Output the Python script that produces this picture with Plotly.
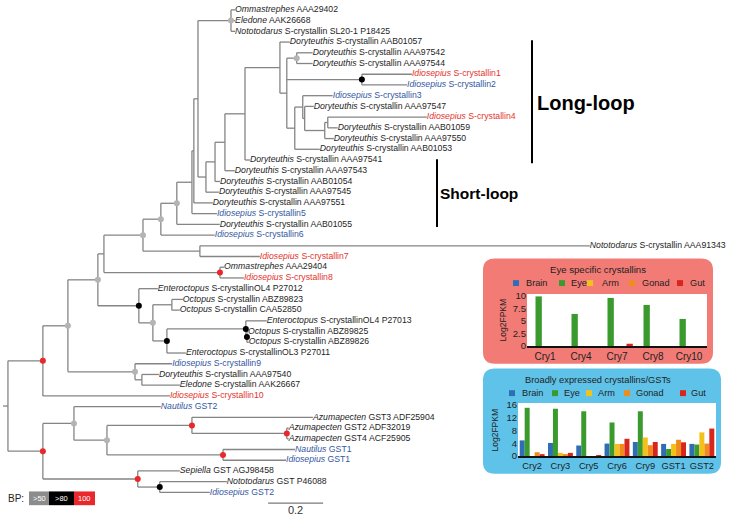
import plotly.graph_objects as go

# ---------------- DATA ----------------
# Phylogeny (Newick): leaf names are indices into the label lists below,
# internal labels are bootstrap support values, numbers after ':' are branch lengths.
clade_O = "(0:0.015,1:0.015,2:0.015)60:0.120"
clade_LL3 = "((8:0.109,(9:0.033,((10:0.360,11:0.036):0.011,12:0.033):0.073):0.007):0.029,13:0.091):0.029"
clade_LL = "(3:0.036,((4:0.058,5:0.058)60:0.036,(6:0.182,7:0.164)90:0.273," + clade_LL3 + "):0.025):0.127"
clade_SL0 = "(" + clade_LL + ",14:0.018):0.073"
clade_S1 = "(" + clade_SL0 + ",15:0.036):0.036"
clade_S2 = "(" + clade_S1 + ",16:0.018):0.033"
clade_S3 = "(" + clade_S2 + ",17:0.047):0.029"
clade_T = "(" + clade_O + "," + clade_S3 + "):0.015"
clade_L = "(" + clade_T + ",18:0.069):0.007"
clade_K = "(" + clade_L + ",19:0.091):0.055"
clade_J = "(" + clade_K + ",20:0.156)60:0.058"
clade_H = "(" + clade_J + ",21:0.196)60:0.065"
clade_I = "(22:1.418,23:0.218):0.207"
clade_F = "(" + clade_H + "," + clade_I + ")60:0.142"
clade_G = "(24:0.015,25:0.087)100:0.422"
clade_C1 = "(" + clade_F + "," + clade_G + "):0.022"
clade_E = "(26:0.069,((27:0.040,28:0.029):0.069,((29:0.076,(30:0.004,31:0.007)90:0.004)90:0.287,32:0.069)90:0.051)60:0.051)90:0.149"
clade_C = "(" + clade_C1 + "," + clade_E + ")60:0.109"
clade_D = "(33:0.135,(34:0.062,35:0.138):0.025)60:0.244"
clade_B = "(" + clade_C + "," + clade_D + ")60:0.091"
clade_A = "(" + clade_B + ",36:0.462)100:0.127"
clade_P = "((37:0.316,((38:0.440,(39:0.007,40:0.007)100:0.345)100:0.309,(41:0.262,42:0.229)100:0.422)60:0.120)60:0.113,(43:0.153,(44:0.244,45:0.182)90:0.080)100:0.345)100:0.127"
newick_tree = "(" + clade_A + "," + clade_P + "):0.018;"

leaf_genus = ["Ommastrephes", "Eledone", "Nototodarus", "Doryteuthis", "Doryteuthis", "Doryteuthis",
              "Idiosepius", "Idiosepius", "Idiosepius", "Doryteuthis", "Idiosepius", "Doryteuthis",
              "Doryteuthis", "Doryteuthis", "Doryteuthis", "Doryteuthis", "Doryteuthis", "Doryteuthis",
              "Doryteuthis", "Idiosepius", "Doryteuthis", "Idiosepius", "Nototodarus", "Idiosepius",
              "Ommastrephes", "Idiosepius", "Enteroctopus", "Octopus", "Octopus", "Enteroctopus",
              "Octopus", "Octopus", "Enteroctopus", "Idiosepius", "Doryteuthis", "Eledone",
              "Idiosepius", "Nautilus", "Azumapecten", "Azumapecten", "Azumapecten", "Nautilus",
              "Idiosepius", "Sepiella", "Nototodarus", "Idiosepius"]
leaf_rest = ["AAA29402", "AAK26668", "S-crystallin SL20-1 P18425", "S-crystallin AAB01057",
             "S-crystallin AAA97542", "S-crystallin AAA97544", "S-crystallin1", "S-crystallin2",
             "S-crystallin3", "S-crystallin AAA97547", "S-crystallin4", "S-crystallin AAB01059",
             "S-crystallin AAA97550", "S-crystallin AAB01053", "S-crystallin AAA97541",
             "S-crystallin AAA97543", "S-crystallin AAB01054", "S-crystallin AAA97545",
             "S-crystallin AAA97551", "S-crystallin5", "S-crystallin AAB01055", "S-crystallin6",
             "S-crystallin AAA91343", "S-crystallin7", "AAA29404", "S-crystallin8",
             "S-crystallinOL4 P27012", "S-crystallin ABZ89823", "S-crystallin CAA52850",
             "S-crystallinOL4 P27013", "S-crystallin ABZ89825", "S-crystallin ABZ89826",
             "S-crystallinOL3 P27011", "S-crystallin9", "S-crystallin AAA97540",
             "S-crystallin AAK26667", "S-crystallin10", "GST2", "GST3 ADF25904", "GST2 ADF32019",
             "GST4 ACF25905", "GST1", "GST1", "GST AGJ98458", "GST P46088", "GST2"]
# k = black, r = red (eye specific), b = blue (broadly expressed)
leaf_group = ["k", "k", "k", "k", "k", "k", "r", "b", "b", "k", "r", "k", "k", "k", "k", "k", "k",
              "k", "k", "b", "k", "b", "k", "r", "k", "r", "k", "k", "k", "k", "k", "k", "k", "b",
              "k", "k", "r", "b", "k", "k", "k", "b", "b", "k", "k", "b"]

scale_bar_start = 0.964
scale_bar_length = 0.2

tissues = ["Brain", "Eye", "Arm", "Gonad", "Gut"]
tissue_colors = ["#2f6db5", "#3a9a2e", "#f2c21b", "#f08c1e", "#d8261c"]

eye_cats = ["Cry1", "Cry4", "Cry7", "Cry8", "Cry10"]
eye_brain = [0, 0, 0, 0, 0]
eye_eye = [9.9, 6.4, 9.6, 8.2, 5.4]
eye_arm = [0, 0, 0, 0, 0]
eye_gonad = [0, 0, 0, 0, 0]
eye_gut = [0, 0, 0.45, 0, 0]

broad_cats = ["Cry2", "Cry3", "Cry5", "Cry6", "Cry9", "GST1", "GST2"]
broad_brain = [4.9, 4.1, 3.3, 3.9, 4.4, 3.8, 3.8]
broad_eye = [15.1, 14.8, 14.0, 10.5, 14.0, 2.2, 3.6]
broad_arm = [0.0, 1.0, 0.0, 3.8, 5.8, 3.8, 7.4]
broad_gonad = [1.2, 0.6, 0.0, 3.8, 3.4, 5.1, 3.9]
broad_gut = [0.6, 1.0, 0.1, 5.4, 4.4, 4.3, 8.6]

# ---------------- TREE PARSING / LAYOUT ----------------
def parse_newick(s):
    s = s.strip().rstrip(';')
    pos = [0]

    def node():
        n = {'children': [], 'name': None, 'bl': 0.0, 'support': None}
        if s[pos[0]] == '(':
            pos[0] += 1
            while True:
                n['children'].append(node())
                ch = s[pos[0]]
                pos[0] += 1
                if ch == ')':
                    break
        st = pos[0]
        while pos[0] < len(s) and s[pos[0]] not in ':,)':
            pos[0] += 1
        lab = s[st:pos[0]]
        if pos[0] < len(s) and s[pos[0]] == ':':
            pos[0] += 1
            st = pos[0]
            while pos[0] < len(s) and s[pos[0]] not in ',)':
                pos[0] += 1
            n['bl'] = float(s[st:pos[0]])
        if n['children']:
            n['support'] = int(lab) if lab else None
        else:
            n['name'] = int(lab)
        return n
    return node()

root = parse_newick(newick_tree)
counter = [0]


def layout(n, x0):
    n['x0'] = x0
    n['x'] = x0 + n['bl']
    if not n['children']:
        n['y'] = counter[0]
        counter[0] += 1
    else:
        for c in n['children']:
            layout(c, n['x'])
        n['y'] = (n['children'][0]['y'] + n['children'][-1]['y']) / 2.0


layout(root, 0.0)

lx, ly = [], []
leaves, internals = [], []


def collect(n):
    lx.extend([n['x0'], n['x'], None])
    ly.extend([n['y'], n['y'], None])
    if n['children']:
        internals.append(n)
        lx.extend([n['x'], n['x'], None])
        ly.extend([n['children'][0]['y'], n['children'][-1]['y'], None])
        for c in n['children']:
            collect(c)
    else:
        leaves.append(n)


collect(root)

color_map = {"k": "#1e1e1e", "r": "#e3342c", "b": "#34589f"}

fig = go.Figure()
fig.add_trace(go.Scatter(x=lx, y=ly, mode="lines", line=dict(color="#858585", width=1.3),
                         hoverinfo="skip", showlegend=False))

# node support markers
sup_style = [(50, 80, "#b4b4b4"), (80, 100, "#000000"), (100, 101, "#e8282b")]
for lo, hi, col in sup_style:
    sel = [n for n in internals if n['support'] is not None and lo <= n['support'] < hi]
    fig.add_trace(go.Scatter(x=[n['x'] for n in sel], y=[n['y'] for n in sel], mode="markers",
                             marker=dict(color=col, size=6, line=dict(width=0)),
                             hoverinfo="skip", showlegend=False))

# leaf labels
fig.add_trace(go.Scatter(
    x=[n['x'] for n in leaves], y=[n['y'] for n in leaves], mode="text",
    text=["<i>%s</i> %s" % (leaf_genus[n['name']], leaf_rest[n['name']]) for n in leaves],
    textposition="middle right",
    textfont=dict(family="Liberation Sans, Arial, sans-serif", size=8.7,
                  color=[color_map[leaf_group[n['name']]] for n in leaves]),
    hoverinfo="skip", showlegend=False))

# scale bar
fig.add_trace(go.Scatter(x=[scale_bar_start, scale_bar_start + scale_bar_length], y=[46.0, 46.0],
                         mode="lines", line=dict(color="#7a7a7a", width=1.2),
                         hoverinfo="skip", showlegend=False))
fig.add_trace(go.Scatter(x=[scale_bar_start + scale_bar_length / 2], y=[46.75], mode="text",
                         text=[str(scale_bar_length)],
                         textfont=dict(family="Liberation Sans, Arial", size=11, color="#333"),
                         hoverinfo="skip", showlegend=False))

# ---------------- INSET BAR CHARTS ----------------
eye_series = [eye_brain, eye_eye, eye_arm, eye_gonad, eye_gut]
broad_series = [broad_brain, broad_eye, broad_arm, broad_gonad, broad_gut]
for name, col, vals in zip(tissues, tissue_colors, eye_series):
    fig.add_trace(go.Bar(x=eye_cats, y=vals, name=name, marker=dict(color=col, line=dict(width=0)),
                         xaxis="x2", yaxis="y2", showlegend=False, hoverinfo="skip"))
for name, col, vals in zip(tissues, tissue_colors, broad_series):
    fig.add_trace(go.Bar(x=broad_cats, y=vals, name=name, marker=dict(color=col, line=dict(width=0)),
                         xaxis="x3", yaxis="y3", showlegend=False, hoverinfo="skip"))

W, H = 730, 521


def px(x):
    return x / W


def py(y):
    return 1 - y / H


def rounded(x0, y0, x1, y1, r):
    rx, ry = r / W, r / H
    X0, X1 = px(x0), px(x1)
    Y0, Y1 = py(y0), py(y1)  # Y0 top (larger)
    return ("M %f,%f L %f,%f Q %f,%f %f,%f L %f,%f Q %f,%f %f,%f L %f,%f Q %f,%f %f,%f "
            "L %f,%f Q %f,%f %f,%f Z") % (
        X0 + rx, Y0, X1 - rx, Y0, X1, Y0, X1, Y0 - ry, X1, Y1 + ry, X1, Y1, X1 - rx, Y1,
        X0 + rx, Y1, X0, Y1, X0, Y1 + ry, X0, Y0 - ry, X0, Y0, X0 + rx, Y0)


shapes = []
shapes.append(dict(type="path", xref="paper", yref="paper", path=rounded(483, 259, 713, 366, 12),
                   fillcolor="#f27b76", line=dict(width=0), layer="below"))
shapes.append(dict(type="path", xref="paper", yref="paper", path=rounded(483, 371, 721, 478, 12),
                   fillcolor="#5fc3e9", line=dict(width=0), layer="below"))
shapes.append(dict(type="rect", xref="paper", yref="paper", x0=px(527), x1=px(707), y0=py(348), y1=py(295),
                   fillcolor="white", line=dict(width=0), layer="below"))
shapes.append(dict(type="rect", xref="paper", yref="paper", x0=px(518), x1=px(716), y0=py(460), y1=py(406),
                   fillcolor="white", line=dict(width=0), layer="below"))

annotations = []
FONT = "Liberation Sans, Arial, sans-serif"


def note(x, y, text, size, color="#222", xanchor="center", **kw):
    annotations.append(dict(x=px(x), y=py(y), xref="paper", yref="paper", text=text, showarrow=False,
                            xanchor=xanchor, yanchor="middle",
                            font=dict(family=FONT, size=size, color=color), **kw))


# legend squares and labels for the insets
leg1_sq = [516, 562, 590, 632, 680]
leg1_tx = [524, 569, 600, 640, 688]
leg2_sq = [512, 555, 589, 627, 683]
leg2_tx = [520, 562, 596, 634, 689]
for (sqs, txs, yy) in [(leg1_sq, leg1_tx, 284), (leg2_sq, leg2_tx, 396)]:
    for sx, tx, name, col in zip(sqs, txs, tissues, tissue_colors):
        shapes.append(dict(type="rect", xref="paper", yref="paper", x0=px(sx - 3), x1=px(sx + 3),
                           y0=py(yy + 3), y1=py(yy - 3), fillcolor=col, line=dict(width=0)))
        note(tx, yy, name, 9.2, xanchor="left")
note(598, 270, "Eye specific crystallins", 9.6)
note(598, 383, "Broadly expressed crystallins/GSTs", 9.3)
note(503, 322, "Log2FPKM", 8.5, textangle=-90)
note(495, 434, "Log2FPKM", 8.5, textangle=-90)

# Long-loop / Short-loop brackets
shapes.append(dict(type="line", xref="paper", yref="paper", x0=px(532), x1=px(532), y0=py(37), y1=py(162),
                   line=dict(color="black", width=2)))
shapes.append(dict(type="line", xref="paper", yref="paper", x0=px(437), x1=px(437), y0=py(158), y1=py(227),
                   line=dict(color="black", width=2)))
note(535, 101, "<b>Long-loop</b>", 20, color="black", xanchor="left")
note(438, 193, "<b>Short-loop</b>", 15.5, color="black", xanchor="left")

# BP legend
bp_boxes = [(29, 49, "#8c8c8c", ">50"), (49, 74, "#000000", ">80"), (74, 95, "#e8282b", "100")]
for x0, x1, col, lab in bp_boxes:
    shapes.append(dict(type="rect", xref="paper", yref="paper", x0=px(x0), x1=px(x1), y0=py(510), y1=py(496),
                       fillcolor=col, line=dict(width=0)))
    note((x0 + x1) / 2, 503, lab, 7.5, color="white")
note(6, 503, "BP:", 10, xanchor="left")

fig.update_layout(
    width=W, height=H, autosize=False,
    margin=dict(l=0, r=0, t=0, b=0),
    paper_bgcolor="white", plot_bgcolor="rgba(0,0,0,0)",
    showlegend=False,
    barmode="group", bargap=0.12, bargroupgap=0,
    shapes=shapes, annotations=annotations,
    xaxis=dict(domain=[0, 1], range=[-3 / 275, 727 / 275], visible=False, fixedrange=True),
    yaxis=dict(domain=[0, 1], range=[(521 - 6) / 10.911, -6 / 10.911], visible=False, fixedrange=True),
    xaxis2=dict(domain=[px(527), px(707)], anchor="y2", showline=True, linecolor="#111", linewidth=1.5,
                ticks="", showgrid=False, tickfont=dict(family=FONT, size=10, color="#222"), fixedrange=True),
    yaxis2=dict(domain=[py(348), py(295)], anchor="x2", range=[0, 10.4], tickvals=[0, 2.5, 5, 7.5, 10],
                ticktext=["0", "2.5", "5", "7.5", "10"], showgrid=False, zeroline=False, showline=False,
                ticks="", tickfont=dict(family=FONT, size=9.5, color="#222"), fixedrange=True),
    xaxis3=dict(domain=[px(518), px(716)], anchor="y3", showline=True, linecolor="#111", linewidth=1.5,
                ticks="", showgrid=False, tickfont=dict(family=FONT, size=9.3, color="#222"), fixedrange=True),
    yaxis3=dict(domain=[py(460), py(406)], anchor="x3", range=[0, 16.6], tickvals=[0, 4, 8, 12, 16],
                showgrid=False, zeroline=False, showline=False, ticks="",
                tickfont=dict(family=FONT, size=9.5, color="#222"), fixedrange=True),
)

fig.write_html("out.html", config={"displayModeBar": False},
               post_script="document.body.style.margin='0px';document.body.style.overflow='hidden';")
